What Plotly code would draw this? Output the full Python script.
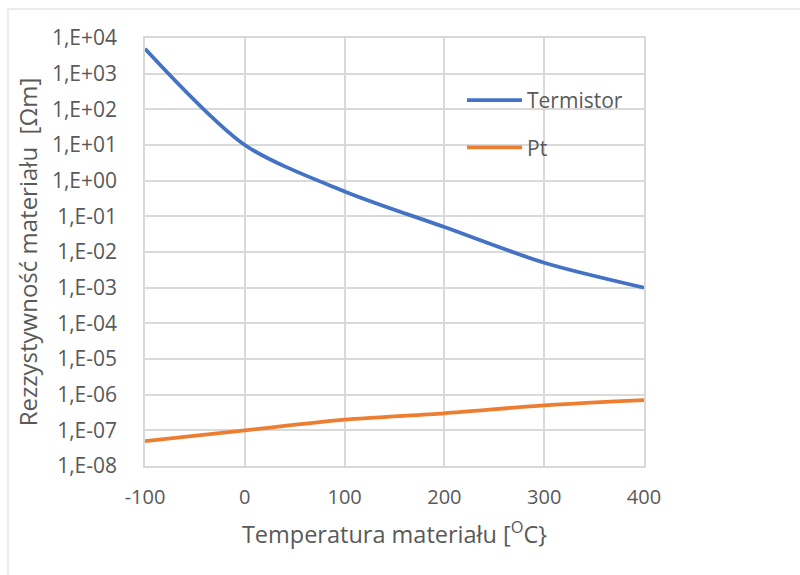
import plotly.graph_objects as go

temps = [-100, 0, 100, 200, 300, 400]
termistor = [5.0e3, 1.0e1, 5.0e-1, 5.0e-2, 5.0e-3, 1.0e-3]
pt = [5.0e-8, 1.0e-7, 2.0e-7, 3.0e-7, 5.0e-7, 7.0e-7]
ytick_vals = [1e4, 1e3, 1e2, 1e1, 1e0, 1e-1, 1e-2, 1e-3, 1e-4, 1e-5, 1e-6, 1e-7, 1e-8]
ytick_text = ["1,E+04", "1,E+03", "1,E+02", "1,E+01", "1,E+00", "1,E-01", "1,E-02",
              "1,E-03", "1,E-04", "1,E-05", "1,E-06", "1,E-07", "1,E-08"]
xtick_vals = [-100, 0, 100, 200, 300, 400]
xtick_text = ["-100", "0", "100", "200", "300", "400"]

FONT = "Open Sans"
TXT = "#595959"
GRID = "#d9d9d9"

fig = go.Figure()
fig.add_trace(go.Scatter(x=temps, y=termistor, mode="lines", name="Termistor",
                         line=dict(color="#4472c4", width=3.8, shape="spline", smoothing=0.8),
                         legendgroup="a"))
fig.add_trace(go.Scatter(x=temps, y=pt, mode="lines", name="Pt",
                         line=dict(color="#ed7d31", width=3.8, shape="spline", smoothing=0.8),
                         legendgroup="b"))

L, R, T, B = 145, 644, 38, 466
W, H = 800, 575
fig.update_layout(
    width=W, height=H,
    margin=dict(l=L, r=W - R, t=T, b=H - B),
    paper_bgcolor="white", plot_bgcolor="white",
    font=dict(family=FONT, color=TXT, size=16),
    showlegend=True,
    legend=dict(x=(462 - L) / (R - L), y=(B - 80) / (B - T), xanchor="left", yanchor="top",
                bgcolor="rgba(0,0,0,0)", font=dict(size=21, color=TXT),
                tracegroupgap=17, itemwidth=55),
    xaxis=dict(range=[-100, 400], tickvals=xtick_vals, ticktext=xtick_text,
               showgrid=True, gridcolor=GRID, gridwidth=1.5,
               showline=True, linecolor=GRID, linewidth=1.5, mirror=True, zeroline=False,
               ticks="", tickfont=dict(size=20, color=TXT), ticklabelstandoff=12,
               title=dict(text="Temperatura materiału [<sup>O</sup>C}", font=dict(size=23.5, color=TXT), standoff=18)),
    yaxis=dict(type="log", range=[-8, 4], tickvals=ytick_vals, ticktext=ytick_text,
               showgrid=True, gridcolor=GRID, gridwidth=1.5,
               showline=True, linecolor=GRID, linewidth=1.5, mirror=True, zeroline=False,
               ticks="", tickfont=dict(size=21, color=TXT), ticklabelstandoff=22,
               title=dict(text="Rezzystywność materiału  [Ωm]", font=dict(size=24, color=TXT), standoff=8)),
)
fig.add_shape(type="rect", xref="paper", yref="paper",
              x0=(8 - L) / (R - L), x1=(830 - L) / (R - L),
              y0=(B - 600) / (B - T), y1=(B - 9) / (B - T),
              line=dict(color="#d9d9d9", width=1), fillcolor="rgba(0,0,0,0)", layer="below")
fig.write_html("out.html")
